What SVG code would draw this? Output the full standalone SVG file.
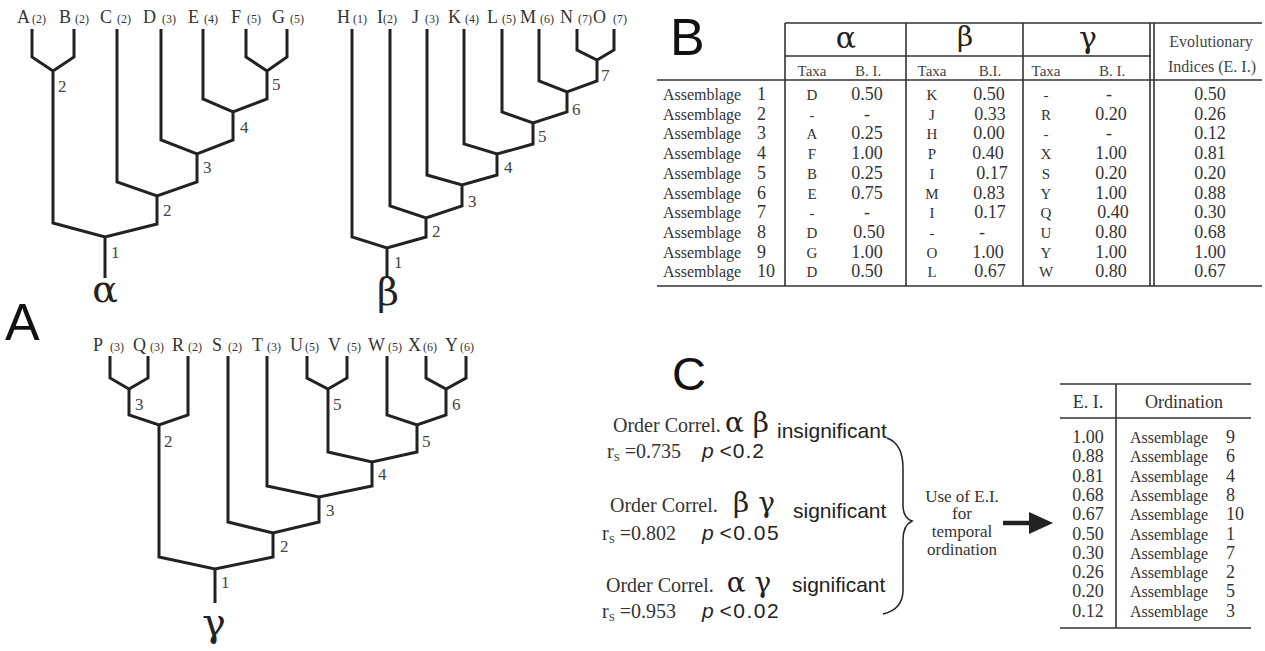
<svg xmlns="http://www.w3.org/2000/svg" width="1265" height="651" viewBox="0 0 1265 651">
<style>
.ln{stroke:#222;stroke-width:3;fill:none;stroke-linejoin:miter;stroke-linecap:butt}
.tl{stroke:#333;stroke-width:1.6;fill:none}
.lab{font-family:"Liberation Serif",serif;font-size:18px;fill:#333}
.sm{font-size:12px}
.nm{font-family:"Liberation Serif",serif;font-size:17px;fill:#444}
.big{font-family:"Liberation Sans",sans-serif;font-size:52px;fill:#111}
.gk{font-family:"DejaVu Serif","Liberation Serif",serif;font-size:38px;fill:#222;text-anchor:middle}
.th{font-family:"Liberation Serif",serif;font-size:15px;fill:#444;text-anchor:middle}
.tx{font-family:"Liberation Serif",serif;font-size:15px;fill:#333;text-anchor:middle}
.tv{font-family:"Liberation Serif",serif;font-size:18px;fill:#333;text-anchor:middle}
.as{font-family:"Liberation Serif",serif;font-size:16px;fill:#333}
.an{font-family:"Liberation Serif",serif;font-size:18px;fill:#333}
.oc{font-family:"Liberation Serif",serif;font-size:20px;fill:#333}
.ss{font-family:"Liberation Sans",sans-serif;font-size:21px;fill:#222}
.ui{font-family:"Liberation Serif",serif;font-size:17px;fill:#333;text-anchor:middle}
</style>

<g id="label-A"><text class="big" x="5" y="340">A</text></g>
<g id="label-B"><text class="big" x="670" y="55">B</text></g>
<g id="label-C"><text class="big" x="672" y="390" style="font-size:47px">C</text></g>

<!-- Tree alpha -->
<g id="tree-alpha">
<text class="lab" y="23"><tspan x="17">A</tspan><tspan class="sm" x="32">(2)</tspan><tspan x="59">B</tspan><tspan class="sm" x="75">(2)</tspan><tspan x="100">C</tspan><tspan class="sm" x="117">(2)</tspan><tspan x="143">D</tspan><tspan class="sm" x="162">(3)</tspan><tspan x="188">E</tspan><tspan class="sm" x="204">(4)</tspan><tspan x="231">F</tspan><tspan class="sm" x="247">(5)</tspan><tspan x="272">G</tspan><tspan class="sm" x="290">(5)</tspan></text>
<path class="ln" d="M32 29V57L53 71L74 57V29M53 71V223L105 237L157 224V196M117 29V182L157 196L197 182V154M161 29V140L197 154L233 140V112M203 29V99L233 112L267 99V71M246 29V57L267 71L287 57V29M105 237V278"/>
<text class="nm" x="58" y="92">2</text>
<text class="nm" x="272" y="90">5</text>
<text class="nm" x="240" y="133">4</text>
<text class="nm" x="203" y="173">3</text>
<text class="nm" x="163" y="216">2</text>
<text class="nm" x="111" y="258">1</text>
<text class="gk" x="105" y="302">α</text>
</g>

<!-- Tree beta -->
<g id="tree-beta">
<text class="lab" y="23"><tspan x="337">H</tspan><tspan class="sm" x="353">(1)</tspan><tspan x="377">I</tspan><tspan class="sm" x="383">(2)</tspan><tspan x="412">J</tspan><tspan class="sm" x="425">(3)</tspan><tspan x="448">K</tspan><tspan class="sm" x="465">(4)</tspan><tspan x="487">L</tspan><tspan class="sm" x="502">(5)</tspan><tspan x="520">M</tspan><tspan class="sm" x="540">(6)</tspan><tspan x="560">N</tspan><tspan class="sm" x="578">(7)</tspan><tspan x="593">O</tspan><tspan class="sm" x="613">(7)</tspan></text>
<path class="ln" d="M352 29V237L387 248L426 237V218M390 29V206L426 218L462 206V185M427 29V175L462 185L497 175V154M464 29V144L497 154L533 144V123M502 29V112L533 123L567 112V92M539 29V81L567 92L597 81V60M577 29V50L597 60L614 50V29M387 248V278"/>
<text class="nm" x="601" y="81">7</text>
<text class="nm" x="572" y="115">6</text>
<text class="nm" x="538" y="142">5</text>
<text class="nm" x="504" y="173">4</text>
<text class="nm" x="468" y="207">3</text>
<text class="nm" x="432" y="237">2</text>
<text class="nm" x="394" y="268">1</text>
<text class="gk" x="388" y="305">β</text>
</g>

<!-- Tree gamma -->
<g id="tree-gamma">
<text class="lab" y="351"><tspan x="93">P</tspan><tspan class="sm" x="110">(3)</tspan><tspan x="133">Q</tspan><tspan class="sm" x="150">(3)</tspan><tspan x="172">R</tspan><tspan class="sm" x="188">(2)</tspan><tspan x="212">S</tspan><tspan class="sm" x="228">(2)</tspan><tspan x="252">T</tspan><tspan class="sm" x="267">(3)</tspan><tspan x="290">U</tspan><tspan class="sm" x="305">(5)</tspan><tspan x="328">V</tspan><tspan class="sm" x="347">(5)</tspan><tspan x="368">W</tspan><tspan class="sm" x="388">(5)</tspan><tspan x="408">X</tspan><tspan class="sm" x="423">(6)</tspan><tspan x="445">Y</tspan><tspan class="sm" x="460">(6)</tspan></text>
<path class="ln" d="M110 356V378L129 389L148 378V356M129 389V415L159 425L188 415V356M159 425V557L215 569L273 557V533M228 356V522L273 533L319 522V497M267 356V486L319 497L372 486V462M307 356V378L328 389L347 378V356M328 389V452L372 462L417 452V425M387 356V415L417 425L446 415V389M426 356V378L446 389L466 378V356M215 569V603"/>
<text class="nm" x="135" y="410">3</text>
<text class="nm" x="164" y="447">2</text>
<text class="nm" x="333" y="410">5</text>
<text class="nm" x="452" y="410">6</text>
<text class="nm" x="422" y="447">5</text>
<text class="nm" x="378" y="480">4</text>
<text class="nm" x="326" y="516">3</text>
<text class="nm" x="280" y="552">2</text>
<text class="nm" x="221" y="588">1</text>
<text class="gk" x="214" y="636" style="font-size:40px">γ</text>
</g>

<!-- Table B -->
<g id="table-B">
<path class="tl" d="M785 23H1262M785 56H1151M657 80H1262M657 286H1262M785 23V286M906 23V286M1023 23V286M1150 23V286M1154 23V286"/>
<text class="gk" x="846" y="48" style="font-size:30px">α</text>
<text class="gk" x="965" y="46" style="font-size:28px">β</text>
<text class="gk" x="1088" y="48" style="font-size:30px">γ</text>
<text class="th" x="812" y="76">Taxa</text><text class="th" x="868" y="76">B. I.</text>
<text class="th" x="932" y="76">Taxa</text><text class="th" x="990" y="76">B.I.</text>
<text class="th" x="1046" y="76">Taxa</text><text class="th" x="1112" y="76">B. I.</text>
<text class="th" x="1211" y="47" style="font-size:16px">Evolutionary</text>
<text class="th" x="1212" y="72" style="font-size:16px">Indices (E. I.)</text>
<g class="as">
<text x="663" y="100">Assemblage</text><text x="663" y="119.7">Assemblage</text><text x="663" y="139.4">Assemblage</text><text x="663" y="159.1">Assemblage</text><text x="663" y="178.8">Assemblage</text><text x="663" y="198.5">Assemblage</text><text x="663" y="218.2">Assemblage</text><text x="663" y="237.9">Assemblage</text><text x="663" y="257.6">Assemblage</text><text x="663" y="277.3">Assemblage</text>
</g>
<g class="an">
<text x="757" y="100">1</text><text x="757" y="119.7">2</text><text x="757" y="139.4">3</text><text x="757" y="159.1">4</text><text x="757" y="178.8">5</text><text x="757" y="198.5">6</text><text x="757" y="218.2">7</text><text x="757" y="237.9">8</text><text x="757" y="257.6">9</text><text x="757" y="277.3">10</text>
</g>
<g class="tx">
<text x="812" y="100">D</text><text x="812" y="119.7">-</text><text x="812" y="139.4">A</text><text x="812" y="159.1">F</text><text x="812" y="178.8">B</text><text x="812" y="198.5">E</text><text x="812" y="218.2">-</text><text x="812" y="237.9">D</text><text x="812" y="257.6">G</text><text x="812" y="277.3">D</text>
<text x="932" y="100">K</text><text x="932" y="119.7">J</text><text x="932" y="139.4">H</text><text x="932" y="159.1">P</text><text x="932" y="178.8">I</text><text x="932" y="198.5">M</text><text x="932" y="218.2">I</text><text x="932" y="237.9">-</text><text x="932" y="257.6">O</text><text x="932" y="277.3">L</text>
<text x="1046" y="100">-</text><text x="1046" y="119.7">R</text><text x="1046" y="139.4">-</text><text x="1046" y="159.1">X</text><text x="1046" y="178.8">S</text><text x="1046" y="198.5">Y</text><text x="1046" y="218.2">Q</text><text x="1046" y="237.9">U</text><text x="1046" y="257.6">Y</text><text x="1046" y="277.3">W</text>
</g>
<g class="tv">
<text x="867" y="100">0.50</text><text x="867" y="119.7">-</text><text x="867" y="139.4">0.25</text><text x="867" y="159.1">1.00</text><text x="867" y="178.8">0.25</text><text x="867" y="198.5">0.75</text><text x="867" y="218.2">-</text><text x="869" y="237.9">0.50</text><text x="867" y="257.6">1.00</text><text x="867" y="277.3">0.50</text>
<text x="989" y="100">0.50</text><text x="990" y="119.7">0.33</text><text x="989" y="139.4">0.00</text><text x="988" y="159.1">0.40</text><text x="992" y="178.8">0.17</text><text x="989" y="198.5">0.83</text><text x="990" y="218.2">0.17</text><text x="982" y="237.9">-</text><text x="988" y="257.6">1.00</text><text x="990" y="277.3">0.67</text>
<text x="1109" y="100">-</text><text x="1111" y="119.7">0.20</text><text x="1109" y="139.4">-</text><text x="1111" y="159.1">1.00</text><text x="1111" y="178.8">0.20</text><text x="1111" y="198.5">1.00</text><text x="1113" y="218.2">0.40</text><text x="1111" y="237.9">0.80</text><text x="1111" y="257.6">1.00</text><text x="1111" y="277.3">0.80</text>
<text x="1210" y="100">0.50</text><text x="1210" y="119.7">0.26</text><text x="1210" y="139.4">0.12</text><text x="1210" y="159.1">0.81</text><text x="1210" y="178.8">0.20</text><text x="1210" y="198.5">0.88</text><text x="1210" y="218.2">0.30</text><text x="1210" y="237.9">0.68</text><text x="1210" y="257.6">1.00</text><text x="1210" y="277.3">0.67</text>
</g>
</g>

<!-- Section C correlations -->
<g id="corr-ab">
<text class="oc" x="613" y="432">Order Correl.</text>
<text class="gk" x="747" y="432" style="font-size:28px">α β</text>
<text class="ss" x="777" y="438">insignificant</text>
<text class="oc" x="607" y="458">r<tspan font-size="11" dy="3">S</tspan><tspan dy="-3"> =0.735</tspan></text>
<text class="ss" x="702" y="458"><tspan font-style="italic">p</tspan> <tspan letter-spacing="1">&lt;0.2</tspan></text>
</g>
<g id="corr-bg">
<text class="oc" x="610" y="512">Order Correl.</text>
<text class="gk" x="754" y="512" style="font-size:28px">β γ</text>
<text class="ss" x="793" y="518">significant</text>
<text class="oc" x="602" y="540">r<tspan font-size="11" dy="3">S</tspan><tspan dy="-3"> =0.802</tspan></text>
<text class="ss" x="702" y="540"><tspan font-style="italic">p</tspan> <tspan letter-spacing="1.5">&lt;0.05</tspan></text>
</g>
<g id="corr-ag">
<text class="oc" x="606" y="592">Order Correl.</text>
<text class="gk" x="749" y="592" style="font-size:28px">α γ</text>
<text class="ss" x="792" y="592">significant</text>
<text class="oc" x="602" y="618">r<tspan font-size="11" dy="3">S</tspan><tspan dy="-3"> =0.953</tspan></text>
<text class="ss" x="702" y="618"><tspan font-style="italic">p</tspan> <tspan letter-spacing="1.5">&lt;0.02</tspan></text>
</g>

<g id="brace">
<path d="M887 438C898 442 903 452 903 468L903 505C903 514 906 519 912 521C906 524 903 530 903 540L903 590C903 604 896 611 883 614" stroke="#222" stroke-width="1.5" fill="none"/>
</g>

<g id="use-ei">
<text class="ui" x="962" y="502">Use of E.I.</text>
<text class="ui" x="962" y="519">for</text>
<text class="ui" x="962" y="537">temporal</text>
<text class="ui" x="962" y="555">ordination</text>
</g>

<g id="connectors">
<path d="M1003 523H1032" stroke="#222" stroke-width="4.5"/>
<polygon points="1029,512 1053,523 1029,534" fill="#222"/>
</g>

<!-- Ordination table -->
<g id="table-ordination">
<path class="tl" d="M1060 384H1251M1060 418H1251M1060 628H1251M1116 384V628"/>
<text class="tv" x="1088" y="408">E. I.</text>
<text class="tv" x="1184" y="408">Ordination</text>
<g class="tv">
<text x="1088" y="443">1.00</text><text x="1088" y="462.3">0.88</text><text x="1088" y="481.6">0.81</text><text x="1088" y="500.9">0.68</text><text x="1088" y="520.2">0.67</text><text x="1088" y="539.5">0.50</text><text x="1088" y="558.8">0.30</text><text x="1088" y="578.1">0.26</text><text x="1088" y="597.4">0.20</text><text x="1088" y="616.7">0.12</text>
</g>
<g class="as">
<text x="1130" y="443">Assemblage</text><text x="1130" y="462.3">Assemblage</text><text x="1130" y="481.6">Assemblage</text><text x="1130" y="500.9">Assemblage</text><text x="1130" y="520.2">Assemblage</text><text x="1130" y="539.5">Assemblage</text><text x="1130" y="558.8">Assemblage</text><text x="1130" y="578.1">Assemblage</text><text x="1130" y="597.4">Assemblage</text><text x="1130" y="616.7">Assemblage</text>
</g>
<g class="an">
<text x="1226" y="443">9</text><text x="1226" y="462.3">6</text><text x="1226" y="481.6">4</text><text x="1226" y="500.9">8</text><text x="1226" y="520.2">10</text><text x="1226" y="539.5">1</text><text x="1226" y="558.8">7</text><text x="1226" y="578.1">2</text><text x="1226" y="597.4">5</text><text x="1226" y="616.7">3</text>
</g>
</g>
</svg>
